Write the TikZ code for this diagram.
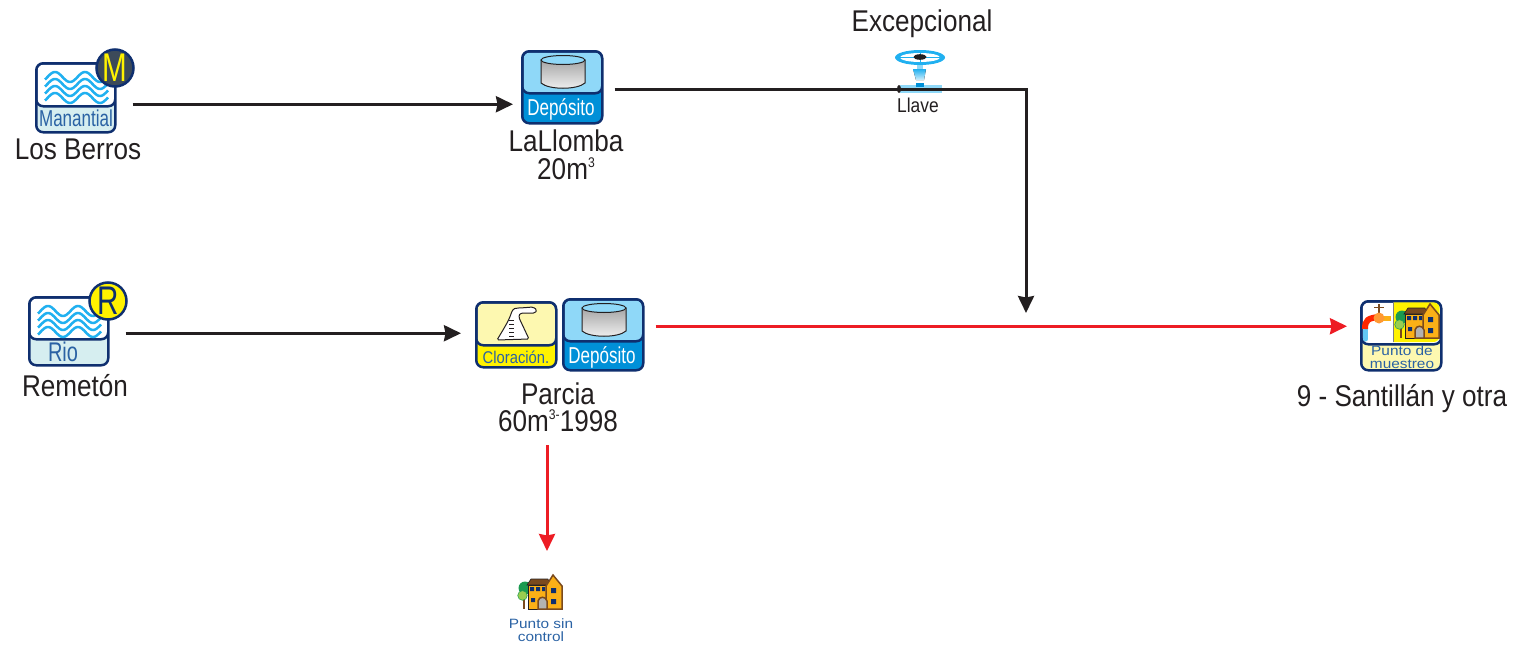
\documentclass[tikz,border=0pt]{standalone}
\usepackage{fontspec}
\usetikzlibrary{arrows.meta}
\setmainfont[FakeStretch=.87]{Liberation Sans}
\newfontfamily\narrowfont[FakeStretch=.74]{Liberation Sans}
\newfontfamily\widefont[FakeStretch=1.14]{Liberation Sans}
\definecolor{ink}{HTML}{231F20}
\definecolor{navy}{HTML}{0F2F6F}
\definecolor{pizarra}{HTML}{3C4A5A}
\definecolor{rojo}{HTML}{ED1C24}
\definecolor{cielo}{HTML}{8FD8F8}
\definecolor{azul}{HTML}{0090D8}
\definecolor{agua}{HTML}{20B0F0}
\definecolor{hielo}{HTML}{D6EEF0}
\definecolor{crema}{HTML}{FDF8B0}
\definecolor{sol}{HTML}{FFF200}
\definecolor{rotulo}{HTML}{2A62A4}
\definecolor{naranja}{HTML}{FBB017}
\definecolor{teja}{HTML}{7A4A1E}
\definecolor{hoja}{HTML}{1A9A50}
\definecolor{brote}{HTML}{9ACD50}
\tikzset{
  panel/.style n args={4}{draw=navy,line width=2.5pt,rounded corners=7pt,anchor=north west,inner sep=0pt,
    minimum width=#1pt,minimum height=#2pt,path picture={
      \filldraw[fill=#3,draw=navy,line width=2.5pt,rounded corners=7pt]
      (path picture bounding box.north west) rectangle ([yshift=-#4pt]path picture bounding box.north east);}},
  big label/.style={font=\fontsize{30}{30}\selectfont,text=ink,inner sep=0pt},
  icon label/.style={font=\narrowfont\fontsize{23}{23}\selectfont,inner sep=0pt},
  badge/.style={circle,draw=navy,line width=2.5pt,minimum size=37pt,inner sep=0pt,font=\narrowfont\fontsize{40}{40}\selectfont},
  wide label/.style={font=\widefont\fontsize{13.5}{13.5}\selectfont,text=rotulo,inner sep=0pt},
  flow/.style={line width=3pt,-{Stealth[length=17pt,width=16pt,inset=1.5pt]}},
  waves/.pic={
    \foreach \row in {0,7,14,21}
      \draw[agua,line width=2.5pt] plot[domain=0:63,samples=50,smooth] (\x,{\row-5*cos((\x-10)*12)});
  },
  tank/.pic={
    \draw[ink,line width=1pt,top color=gray!70,bottom color=gray!10]
      (0,6) -- (0,29) .. controls (8,36) and (36,36) .. (44,29) -- (44,6) -- cycle;
    \draw[ink,line width=1pt,fill=cielo] (22,6) ellipse [x radius=22,y radius=4.5];
  },
  house/.pic={
    \draw[teja,line width=1.5pt] (6,14) -- (6,35);
    \fill[hoja] (7,14) circle [radius=6.5];
    \filldraw[fill=brote,draw=hoja,line width=.5pt] (4.5,21.5) circle [radius=4.8];
    \filldraw[fill=naranja,draw=ink,line width=1pt] (10,11) rectangle (30,35);
    \filldraw[fill=teja,draw=ink,line width=.6pt] (9,11) -- (13,5) -- (30,5) -- (32,11) -- cycle;
    \filldraw[fill=naranja,draw=teja,line width=1.5pt] (28,35) -- (28,12) -- (35,1) -- (44,12) -- (44,35) -- cycle;
    \fill[navy] (12,13) rectangle +(4,4) (18,13) rectangle +(4,4) (24,13) rectangle +(3,4)
      (13,24) rectangle +(4,4) (33,14) rectangle +(5,5) (33,25) rectangle +(5,5);
    \filldraw[fill=gray!60,draw=teja,line width=1.5pt] (20,35) -- (20,27) .. controls (21,22) and (28,22) .. (29,27) -- (29,35) -- cycle;
  }
}
\begin{document}
\begin{tikzpicture}[x=1pt,y=-1pt]
  \useasboundingbox (0,0) rectangle (1513,648);

  % sources
  \node[panel={79}{69}{white}{43},fill=hielo] (manantial) at (35,62) {};
  \pic at (45,77) {waves};
  \node[icon label,text=rotulo] (manantial text) at (76,118) {Manantial};
  \node[badge,fill=pizarra,text=sol] (m) at (115,68) {M};
  \node[big label] (berros) at (78,149) {Los Berros};

  \node[panel={79}{68}{white}{42},fill=hielo] (rio) at (28,296) {};
  \pic at (38,311) {waves};
  \node[icon label,text=rotulo,font=\narrowfont\fontsize{27}{27}\selectfont] (rio text) at (63,352) {Rio};
  \node[badge,fill=sol,text=navy] (r) at (108,301) {R};
  \node[big label] (remeton) at (75,386) {Remetón};

  % tanks
  \node[panel={80}{72}{cielo}{42},fill=azul] (lallomba) at (521,50) {};
  \pic at (541,54) {tank};
  \node[icon label,text=white] (lallomba text) at (561,109) {Depósito};
  \node[big label] (lallomba name) at (566,141) {LaLlomba};
  \node[big label] (lallomba cap) at (566,169) {20m\raisebox{12pt}{\fontsize{14}{14}\selectfont 3}};

  \node[panel={80}{65}{crema}{43},fill=sol] (cloro) at (475,301) {};
  \filldraw[fill=white,draw=ink,line width=1pt,rounded corners=1.5pt] (497,340) .. controls (503,330) and (508,322) .. (511,314) .. controls (513,308) and (516,308) .. (520,308)
    -- (533,307) -- (537,310) -- (535,313) -- (523,313) .. controls (518,314) and (519,318) .. (521,322) -- (529,339) -- cycle;
  \foreach \y in {320,324,328,332,336}
    \draw[ink,line width=1pt] (509,\y) -- (514,\y);
  \node[inner sep=0pt,text=rotulo,font=\fontsize{17}{17}\selectfont] (cloro text) at (516,357) {Cloración.};

  \node[panel={80}{71}{cielo}{42},fill=azul] (parcia) at (562,298) {};
  \pic at (582,302) {tank};
  \node[icon label,text=white] (parcia text) at (602,357) {Depósito};
  \node[big label] (parcia name) at (558,394) {Parcia};
  \node[big label] (parcia cap) at (558,421) {60m\raisebox{12pt}{\fontsize{14}{14}\selectfont 3-}1998};

  % sampling point
  \node[panel={80}{69}{white}{43},fill=crema] (muestreo) at (1360,300) {};
  \fill[sol] (1393,302.4) [rounded corners=6pt] -- (1439.6,302.4) -- (1439.6,342) [sharp corners] -- (1393,342) -- cycle;
  \draw[gray,line width=.6pt] (1393,302.4) -- (1393,342);
  \pic at (1395,303) {house};
  \draw[teja,line width=1.5pt] (1379,304) -- (1379,314) (1374,307.5) -- (1384,307.5);
  \draw[agua!70,line width=5pt,line cap=round] (1365.5,330) -- (1365.5,339);
  \draw[red!70!orange,line width=6pt] (1365,329) .. controls (1365,320) and (1368,318) .. (1379,317);
  \draw[naranja,line width=5pt] (1379,318.5) -- (1391,318.5);
  \fill[orange!80!white] (1379,318) circle [radius=5.5];
  \node[wide label] (muestreo top) at (1402,351) {Punto de};
  \node[wide label] (muestreo low) at (1402,364) {muestreo};
  \node[big label] (santillan) at (1402,399) {9 - Santillán y otra};

  \pic at (518,574) {house};
  \node[wide label] (sincontrol top) at (541,624) {Punto sin};
  \node[wide label] (sincontrol low) at (541,637) {control};

  % connectors
  \coordinate (entrada) at (1026,313);
  \coordinate (sincontrol) at (547,551);
  \draw[flow,ink] ([shift={(16,6.5)}]manantial.east) -- ([shift={(-8,17)}]lallomba.west);
  \draw[flow,ink] ([shift={(16,2)}]rio.east) -- ([shift={(-14,-1.5)}]cloro.west);
  \draw[flow,ink] ([shift={(11,2)}]lallomba.east) -| (entrada);
  \draw[flow,rojo] ([shift={(11,-8.5)}]parcia.east) -- ([shift={(-13,-9.5)}]muestreo.west);
  \draw[flow,rojo] ([shift={(-11,13)}]parcia cap.south) -- (sincontrol);

  % valve
  \fill[cielo] (900,85) rectangle (942,93);
  \draw[ink,line width=3pt] (899,89) -- (942,89);
  \fill[ink] (899,89) ellipse [x radius=2,y radius=4];
  \fill[azul] (916,83) rectangle (924,87);
  \fill[cielo] (917,60) rectangle (923,70);
  \fill[top color=agua,bottom color=cielo!40] (913,69) -- (926,69) -- (924,80) -- (916,80) -- cycle;
  \fill[agua] (920,57.5) ellipse [x radius=25,y radius=7.5];
  \fill[white] (920,57.5) ellipse [x radius=20,y radius=4.5];
  \draw[agua,line width=1pt] (900,57) -- (940,57) (920,52) -- (920,62);
  \fill[ink] (920,57) ellipse [x radius=6.5,y radius=2.8];
  \node[inner sep=0pt,text=ink,font=\fontsize{20}{20}\selectfont] (llave) at (918,105) {Llave};
  \node[big label] (excepcional) at (922,24) {Excepcional};
\end{tikzpicture}
\end{document}
